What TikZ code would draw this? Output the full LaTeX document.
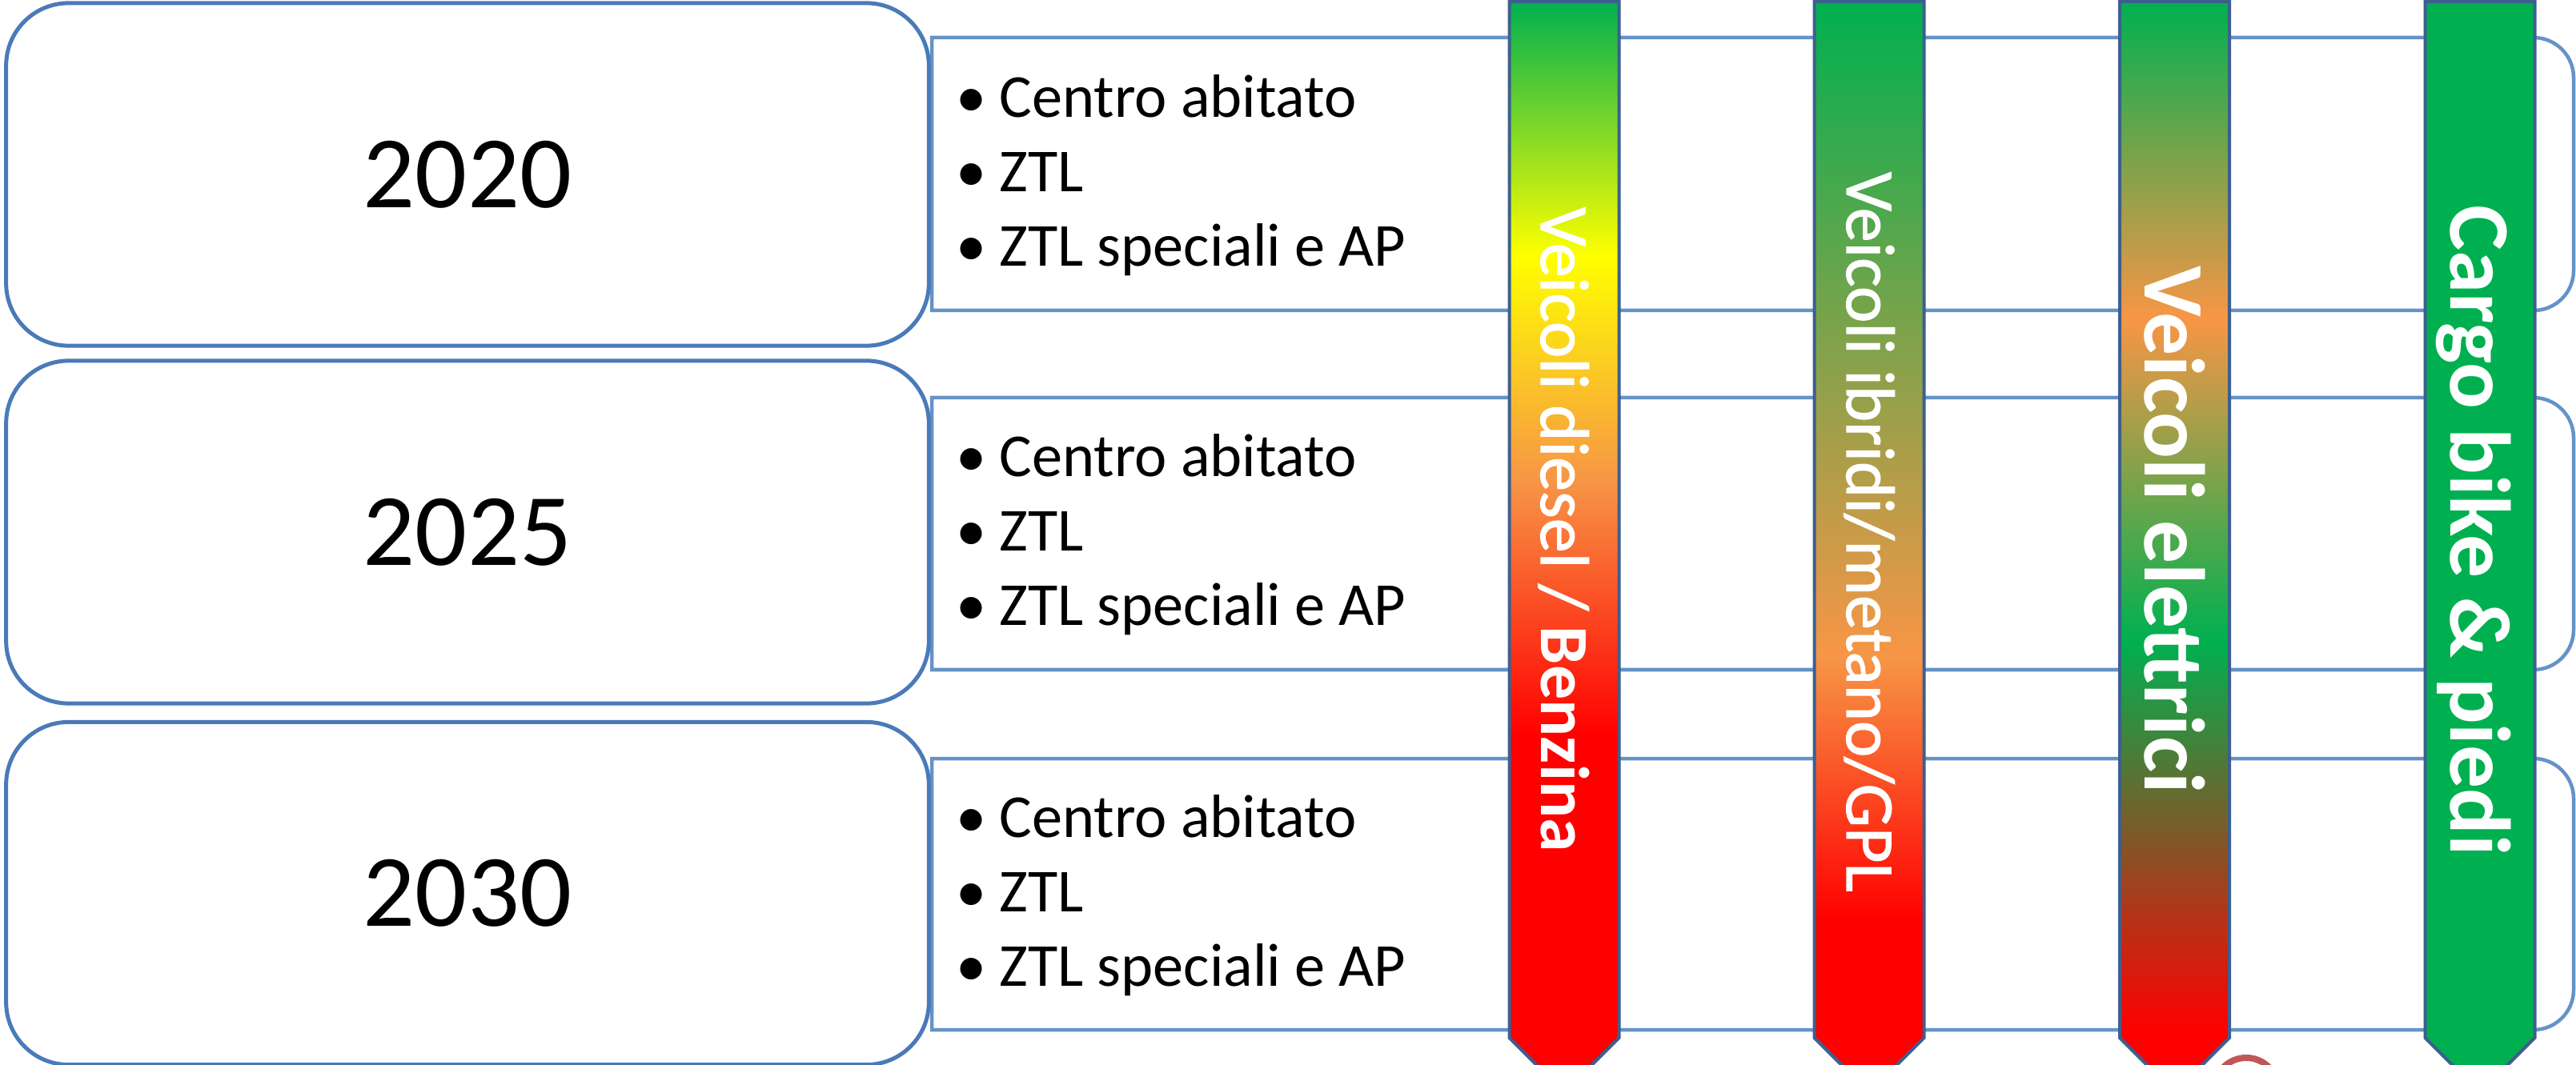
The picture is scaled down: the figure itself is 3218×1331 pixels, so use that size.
\documentclass[tikz,border=0pt]{standalone}
\usepackage{fontspec}
\setmainfont{Carlito}
\newfontfamily\semifont[FakeBold=1.3]{Carlito}
\definecolor{cGreen}{HTML}{00B050}
\definecolor{cYellow}{HTML}{FFFF00}
\definecolor{cOrange}{HTML}{F79646}
\definecolor{cRed}{HTML}{FF0000}
\definecolor{boxBlue}{HTML}{4A7AB8}
\definecolor{panelBlue}{HTML}{6592C8}
\definecolor{arrowBlue}{HTML}{3D5F8F}
\definecolor{ringRed}{HTML}{B53A3A}
\pgfdeclareverticalshading{shA}{100bp}{color(0bp)=(cRed); color(41.34bp)=(cRed); color(53.07bp)=(cOrange); color(63.34bp)=(cYellow); color(75bp)=(cGreen); color(100bp)=(cGreen)}
\pgfdeclareverticalshading{shB}{100bp}{color(0bp)=(cRed); color(32.9bp)=(cRed); color(45bp)=(cOrange); color(75bp)=(cGreen); color(100bp)=(cGreen)}
\pgfdeclareverticalshading{shC}{100bp}{color(0bp)=(cRed); color(27.77bp)=(cRed); color(45.7bp)=(cGreen); color(60.48bp)=(cOrange); color(75bp)=(cGreen); color(100bp)=(cGreen)}
\begin{document}
\begin{tikzpicture}[x=0.01cm, y=-0.01cm,
  yearbox/.style={draw=boxBlue, line width=0.05cm, fill=white, rounded corners=0.78cm,
    minimum width=11.52cm, minimum height=4.28cm, inner sep=0pt,
    font=\fontsize{36.5}{40}\selectfont},
  panel/.style={draw=panelBlue, line width=0.045cm, fill=white},
  arrowshape/.style={draw=arrowBlue, line width=0.04cm, line join=miter},
  listtext/.style={anchor=west, align=left, inner sep=0pt,
    font=\fontsize{21.7}{26.5}\selectfont},
  arrowtext/.style={anchor=base, rotate=-90, text=white, inner sep=0pt},
  smalltxt/.style={font=\semifont\fontsize{24.5}{28}\selectfont},
  bigtxt/.style={font=\bfseries\fontsize{30.6}{34}\selectfont}
]
\useasboundingbox (0,0) rectangle (3218,1331);
\clip (0,0) rectangle (3218,1331);
\fill[white] (0,0) rectangle (3218,1331);

% panels (rounded on the right side only)
\foreach \t/\b in {47/388, 497/837, 948/1287}{
  \draw[panel] (1164,\t) -- (3165,\t) .. controls (3192.6,\t) and (3215,\t+22.4) .. (3215,\t+50)
    -- (3215,\b-50) .. controls (3215,\b-22.4) and (3192.6,\b) .. (3165,\b) -- (1164,\b) -- cycle;
}

% year boxes
\node[yearbox] (y2020) at (584,218) {2020};
\node[yearbox] (y2025) at (584,665) {2025};
\node[yearbox] (y2030) at (584,1116.5) {2030};

% bullet lists
\node[listtext] (l2020) at (1194,219) {\makebox[0.54cm][l]{•}Centro abitato\\\makebox[0.54cm][l]{•}ZTL\\\makebox[0.54cm][l]{•}ZTL speciali e AP};
\node[listtext] (l2025) at (1194,668) {\makebox[0.54cm][l]{•}Centro abitato\\\makebox[0.54cm][l]{•}ZTL\\\makebox[0.54cm][l]{•}ZTL speciali e AP};
\node[listtext] (l2030) at (1194,1119) {\makebox[0.54cm][l]{•}Centro abitato\\\makebox[0.54cm][l]{•}ZTL\\\makebox[0.54cm][l]{•}ZTL speciali e AP};

% arrows
\path[arrowshape, shade, shading=shA] (1885.5,2) -- (2022.5,2) -- (2022.5,1297) -- (1954,1365.5) -- (1885.5,1297) -- cycle;
\path[arrowshape, shade, shading=shB] (2266.5,2) -- (2403.5,2) -- (2403.5,1297) -- (2335,1365.5) -- (2266.5,1297) -- cycle;
\path[arrowshape, shade, shading=shC] (2648,2) -- (2785,2) -- (2785,1297) -- (2716.5,1365.5) -- (2648,1297) -- cycle;
\path[arrowshape, fill=cGreen] (3029.5,2) -- (3166.5,2) -- (3166.5,1297) -- (3098,1365.5) -- (3029.5,1297) -- cycle;

% arrow labels
\node[arrowtext, smalltxt] (tA) at (1925,662) {Veicoli diesel / {\normalfont\bfseries Benzina}};
\node[arrowtext, smalltxt] (tB) at (2307,665) {Veicoli ibridi/metano/GPL};
\node[arrowtext, bigtxt] (tC) at (2679,662) {Veicoli elettrici};
\node[arrowtext, bigtxt] (tD) at (3061,663) {Cargo bike \& piedi};

% partial logo ring at the bottom
\draw[ringRed, line width=0.08cm, opacity=0.85] (2806,1362) circle[radius=0.4cm];
\end{tikzpicture}
\end{document}
